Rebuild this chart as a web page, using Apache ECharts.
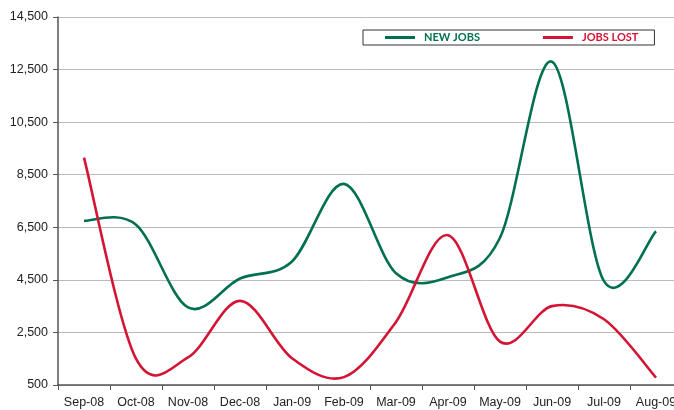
<!DOCTYPE html>
<html>
<head>
<meta charset="utf-8">
<title>New jobs vs jobs lost</title>
<script src="https://cdn.jsdelivr.net/npm/echarts@6/dist/echarts.min.js"></script>
<style>
  html, body { margin: 0; padding: 0; background: #fff; }
  #chart { width: 674px; height: 410px; }
</style>
</head>
<body>
<div id="chart"></div>
<script>
// months on the x axis
var months = ['Sep-08', 'Oct-08', 'Nov-08', 'Dec-08', 'Jan-09', 'Feb-09',
              'Mar-09', 'Apr-09', 'May-09', 'Jun-09', 'Jul-09', 'Aug-09'];
// values
var newJobs  = [6750, 6600, 3450, 4550, 5200, 8150, 4750, 4600, 6100, 12800, 4450, 6350];
var jobsLost = [9150, 1500, 1550, 3700, 1520, 800, 2900, 6200, 2150, 3500, 3000, 780];

var green = '#007050';
var red = '#d31434';

// spreadsheet-style spline (catmull-rom) through the points, which is allowed
// to overshoot between them, unlike the built in line smoothing
function splineRenderer(values, color) {
    return function (params, api) {
        if (params.dataIndex !== 0) return null;
        var pts = values.map(function (v, i) { return api.coord([i, v]); });
        var n = pts.length;
        var d = 'M' + pts[0][0] + ' ' + pts[0][1];
        for (var i = 0; i < n - 1; i++) {
            var p0 = pts[Math.max(i - 1, 0)];
            var p1 = pts[i];
            var p2 = pts[i + 1];
            var p3 = pts[Math.min(i + 2, n - 1)];
            var c1x = p1[0] + (p2[0] - p0[0]) / 6;
            var c1y = p1[1] + (p2[1] - p0[1]) / 6;
            var c2x = p2[0] - (p3[0] - p1[0]) / 6;
            var c2y = p2[1] - (p3[1] - p1[1]) / 6;
            d += ' C' + c1x + ' ' + c1y + ' ' + c2x + ' ' + c2y + ' ' + p2[0] + ' ' + p2[1];
        }
        return {
            type: 'path',
            shape: { pathData: d },
            style: { stroke: color, lineWidth: 2.6, fill: 'none', lineJoin: 'round', lineCap: 'butt' }
        };
    };
}

function pairs(values) {
    return values.map(function (v, i) { return [i, v]; });
}

var chart = echarts.init(document.getElementById('chart'));

var option = {
    animation: false,
    // plot runs a little past the right edge, like the original
    grid: { left: 58, top: 17, width: 624, bottom: 25, outerBoundsMode: 'none', containLabel: false },
    legend: {
        left: 363,
        top: 30,
        orient: 'horizontal',
        icon: 'rect',
        itemWidth: 30,
        itemHeight: 3,
        itemGap: 63,
        padding: [2, 16, 2, 22],
        borderColor: '#333',
        borderWidth: 1,
        textStyle: { fontFamily: 'Lato', fontWeight: 'bold', fontSize: 11, padding: [0, 0, 0, 4] },
        data: [
            { name: 'NEW JOBS', textStyle: { color: green } },
            { name: 'JOBS LOST', textStyle: { color: red } }
        ]
    },
    xAxis: {
        type: 'category',
        data: months,
        boundaryGap: true,
        axisLine: { lineStyle: { color: '#555', width: 1.5 } },
        axisTick: { show: true, interval: 0, length: 5, lineStyle: { color: '#555' } },
        axisLabel: { interval: 0, margin: 11, color: '#222', fontFamily: 'Liberation Sans', fontSize: 12.5 },
        splitLine: { show: false }
    },
    yAxis: {
        type: 'value',
        min: 500,
        max: 14500,
        interval: 2000,
        axisLine: { show: true, lineStyle: { color: '#555', width: 1.5 } },
        axisTick: { show: true, length: 5, lineStyle: { color: '#555' } },
        axisLabel: {
            margin: 10,
            color: '#222',
            fontFamily: 'Liberation Sans',
            fontSize: 12.5,
            formatter: function (v) { return v.toLocaleString('en-US'); }
        },
        splitLine: { lineStyle: { color: '#bbb', width: 1 } }
    },
    series: [
        {
            name: 'NEW JOBS',
            type: 'custom',
            data: pairs(newJobs),
            encode: { x: 0, y: 1 },
            itemStyle: { color: green },
            renderItem: splineRenderer(newJobs, green)
        },
        {
            name: 'JOBS LOST',
            type: 'custom',
            data: pairs(jobsLost),
            encode: { x: 0, y: 1 },
            itemStyle: { color: red },
            renderItem: splineRenderer(jobsLost, red)
        }
    ]
};

chart.setOption(option);
</script>
</body>
</html>
